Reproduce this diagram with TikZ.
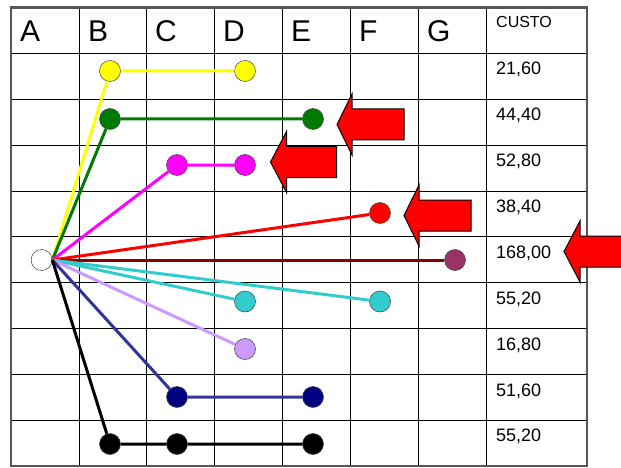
\documentclass[tikz,border=0pt]{standalone}
\usepackage{fontspec}
\setmainfont{Liberation Sans}
\usetikzlibrary{arrows.meta,positioning}
\definecolor{pathyellow}{HTML}{FFFF00}
\definecolor{pathgreen}{HTML}{007A00}
\definecolor{pathmagenta}{HTML}{FF00FF}
\definecolor{pathred}{HTML}{FF0000}
\definecolor{pathmaroon}{HTML}{8B0000}
\definecolor{dotmaroon}{HTML}{993366}
\definecolor{pathcyan}{HTML}{33CCCC}
\definecolor{pathlilac}{HTML}{CC99FF}
\definecolor{pathnavy}{HTML}{333399}
\definecolor{dotnavy}{HTML}{000080}
\definecolor{framegray}{HTML}{555555}
\tikzset{
  gridline/.style={draw=black,line width=0.8pt},
  frameline/.style={draw=framegray,line width=2.6pt},
  dot/.style={circle,draw=black!75,line width=0.5pt,minimum size=21pt,inner sep=0pt},
  route/.style={line width=3pt},
  colhead/.style={anchor=base west,inner sep=0pt,font=\fontsize{30}{30}\selectfont},
  costhead/.style={anchor=base west,inner sep=0pt,font=\fontsize{16}{16}\selectfont},
  cost/.style={anchor=base west,inner sep=0pt,font=\fontsize{18}{18}\selectfont},
  bigarrow/.style={draw=black,line width=1pt,fill=pathred,line join=miter}
}
\begin{document}
\begin{tikzpicture}[x=1pt,y=-1pt]
  \useasboundingbox (0,0) rectangle (621,468);
  % table
  \draw[gridline] (78.9,7.5)--(78.9,466) (146.8,7.5)--(146.8,466) (214.7,7.5)--(214.7,466) (282.6,7.5)--(282.6,466)
    (350.5,7.5)--(350.5,466) (418.4,7.5)--(418.4,466) (486.3,7.5)--(486.3,466);
  \draw[gridline] (11,53.4)--(587,53.4) (11,99.2)--(587,99.2) (11,145)--(587,145) (11,190.9)--(587,190.9) (11,236.7)--(587,236.7)
    (11,282.6)--(587,282.6) (11,328.4)--(587,328.4) (11,374.3)--(587,374.3) (11,420.1)--(587,420.1);
  \draw[frameline] (11,7.5) rectangle (587,466);
  % column heads
  \node[colhead] (hA) at (20,42) {A};
  \node[colhead] (hB) at (88,42) {B};
  \node[colhead] (hC) at (155,42) {C};
  \node[colhead] (hD) at (223,42) {D};
  \node[colhead] (hE) at (291,42) {E};
  \node[colhead] (hF) at (359,42) {F};
  \node[colhead] (hG) at (427,42) {G};
  \node[costhead] (hcost) at (496,28) {CUSTO};
  % costs
  \node[cost] (c1) at (496,75) {21,60};
  \node[cost] (c2) at (496,120.5) {44,40};
  \node[cost] (c3) at (496,166.5) {52,80};
  \node[cost] (c4) at (496,212.5) {38,40};
  \node[cost] (c5) at (496,258) {168,00};
  \node[cost] (c6) at (496,304) {55,20};
  \node[cost] (c7) at (496,350) {16,80};
  \node[cost] (c8) at (496,396) {51,60};
  \node[cost] (c9) at (496,441.5) {55,20};
  % dots
  \node[dot,fill=white] (orig) at (41.6,260) {};
  \node[dot,fill=pathyellow] (yB) at (110,71) {};
  \node[dot,fill=pathyellow] (yD) at (245,71) {};
  \node[dot,fill=pathgreen] (gB) at (110,119) {};
  \node[dot,fill=pathgreen] (gE) at (313,119) {};
  \node[dot,fill=pathmagenta] (mC) at (177,165) {};
  \node[dot,fill=pathmagenta] (mD) at (245,165) {};
  \node[dot,fill=pathred] (rF) at (380,213) {};
  \node[dot,fill=dotmaroon] (wG) at (455,260) {};
  \node[dot,fill=pathcyan] (cD) at (245,301.5) {};
  \node[dot,fill=pathcyan] (cF) at (380,301.5) {};
  \node[dot,fill=pathlilac] (lD) at (245,349) {};
  \node[dot,fill=dotnavy] (nC) at (177,397) {};
  \node[dot,fill=dotnavy] (nE) at (313,397) {};
  \node[dot,fill=black] (kB) at (110,444) {};
  \node[dot,fill=black] (kC) at (177,444) {};
  \node[dot,fill=black] (kE) at (313,444) {};
  % routes
  \draw[route,draw=pathyellow] (orig.east) -- (yB) -- (yD);
  \draw[route,draw=pathgreen] (orig.east) -- (gB) -- (gE);
  \draw[route,draw=pathmagenta] (orig.east) -- (mC) -- (mD);
  \draw[route,draw=pathred] (orig.east) -- (rF);
  \draw[route,draw=pathmaroon] (orig.east) -- (wG);
  \draw[route,draw=pathcyan] (orig.east) -- (cD); \draw[route,draw=pathcyan] (orig.east) -- (cF);
  \draw[route,draw=pathlilac] (orig.east) -- (lD);
  \draw[route,draw=pathnavy] (orig.east) -- (nC) -- (nE);
  \draw[route,draw=black] (orig.east) -- (kB) -- (kC) -- (kE);
  % red arrows
  \draw[bigarrow] (337,124.5) -- ++(15,-30.5) -- ++(0,15) -- ++(52,0) -- ++(0,31) -- ++(-52,0) -- ++(0,15) -- cycle;
  \draw[bigarrow] (270.5,162) -- ++(16,-30.5) -- ++(0,15) -- ++(50,0) -- ++(0,31) -- ++(-50,0) -- ++(0,15) -- cycle;
  \draw[bigarrow] (404,215.5) -- ++(15,-30.5) -- ++(0,15) -- ++(52,0) -- ++(0,31) -- ++(-52,0) -- ++(0,15) -- cycle;
  \draw[bigarrow] (564,251.5) -- ++(16,-30.5) -- ++(0,15) -- ++(44,0) -- ++(0,31) -- ++(-44,0) -- ++(0,15) -- cycle;
\end{tikzpicture}
\end{document}
